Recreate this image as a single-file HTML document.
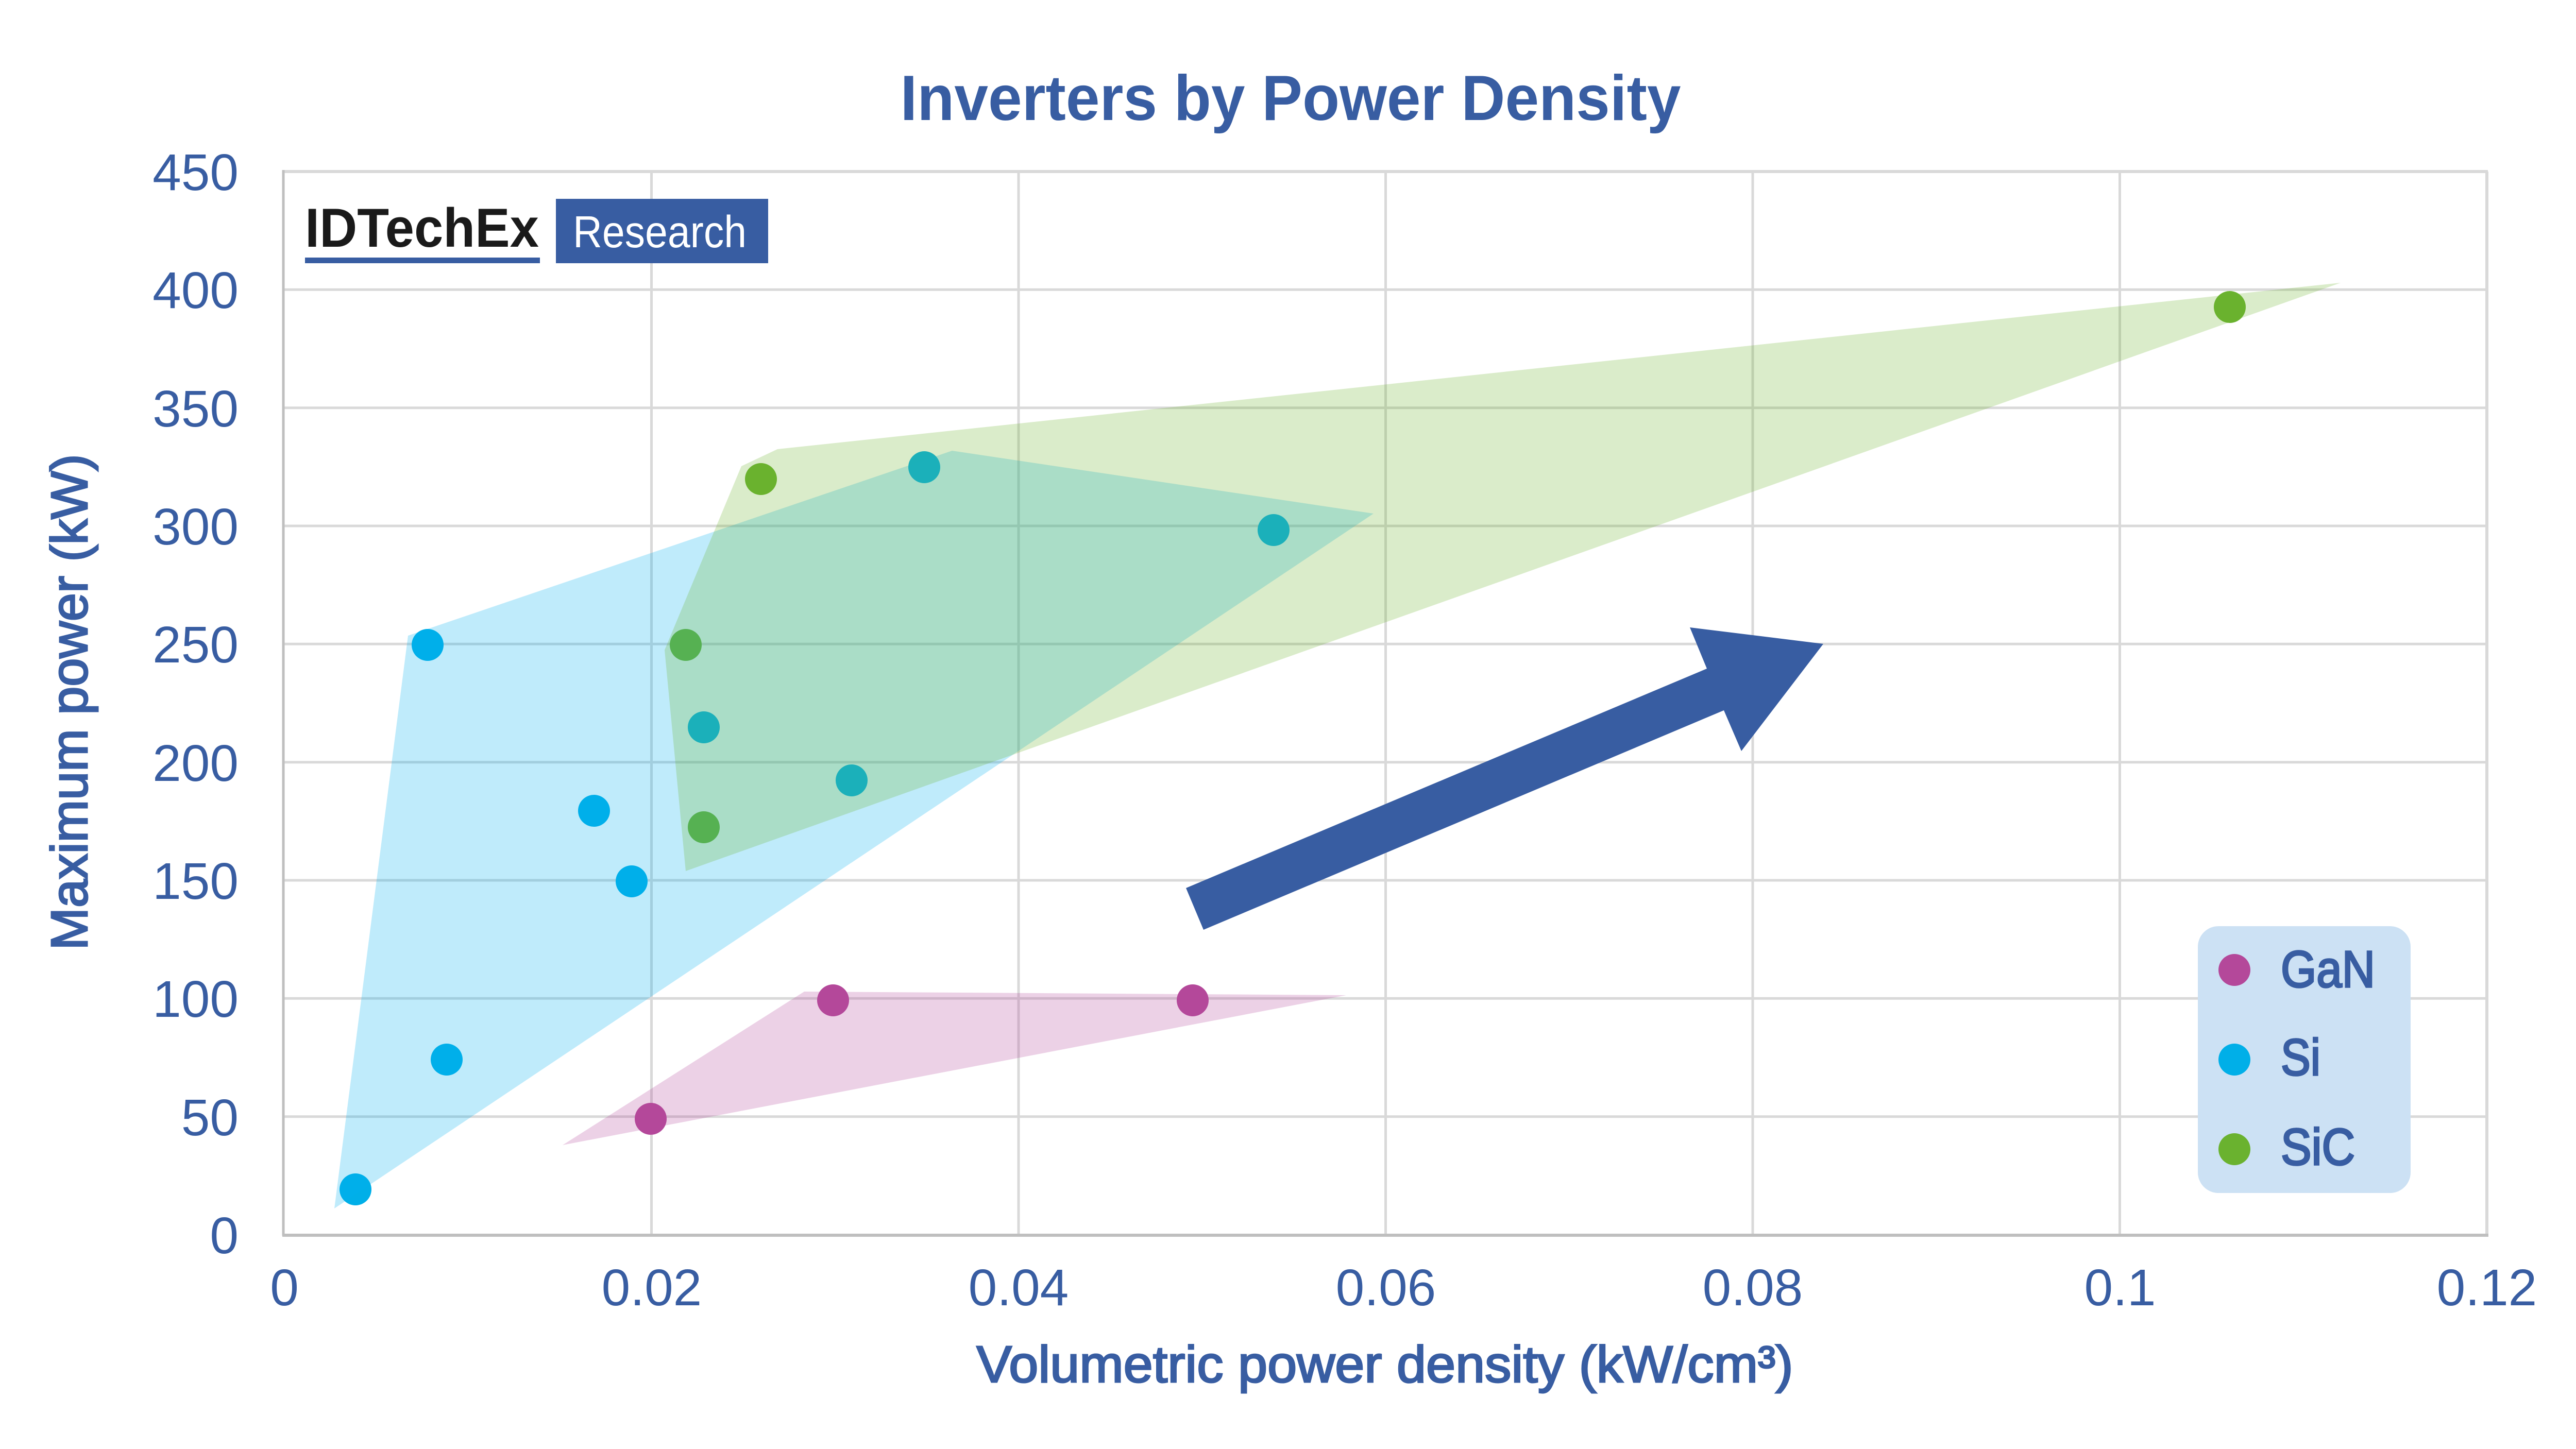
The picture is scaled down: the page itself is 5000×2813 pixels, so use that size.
<!DOCTYPE html>
<html>
<head>
<meta charset="utf-8">
<style>
  html, body { margin: 0; padding: 0; background: #ffffff; }
  svg { display: block; }
  text { font-family: "Liberation Sans", "DejaVu Sans", sans-serif; }
</style>
</head>
<body>
<svg width="5000" height="2813" viewBox="0 0 5000 2813" xmlns="http://www.w3.org/2000/svg">
  <rect x="0" y="0" width="5000" height="2813" fill="#ffffff"/>

  <!-- Title -->
  <text x="2505" y="233" font-size="124" font-weight="bold" fill="#385da2" text-anchor="middle" textLength="1515" lengthAdjust="spacingAndGlyphs">Inverters by Power Density</text>

  <!-- Gridlines -->
  <g stroke="#d9d9d9" stroke-width="5">
    <line x1="552" y1="2167.7" x2="4827" y2="2167.7"/>
    <line x1="552" y1="1938.3" x2="4827" y2="1938.3"/>
    <line x1="552" y1="1709" x2="4827" y2="1709"/>
    <line x1="552" y1="1479.7" x2="4827" y2="1479.7"/>
    <line x1="552" y1="1250.3" x2="4827" y2="1250.3"/>
    <line x1="552" y1="1021" x2="4827" y2="1021"/>
    <line x1="552" y1="791.7" x2="4827" y2="791.7"/>
    <line x1="552" y1="562.3" x2="4827" y2="562.3"/>
    <line x1="1264.5" y1="333" x2="1264.5" y2="2397"/>
    <line x1="1977" y1="333" x2="1977" y2="2397"/>
    <line x1="2689.5" y1="333" x2="2689.5" y2="2397"/>
    <line x1="3402" y1="333" x2="3402" y2="2397"/>
    <line x1="4114.5" y1="333" x2="4114.5" y2="2397"/>
  </g>
  <!-- top & right borders -->
  <line x1="552" y1="333" x2="4829" y2="333" stroke="#d9d9d9" stroke-width="6"/>
  <line x1="4827" y1="333" x2="4827" y2="2397" stroke="#d9d9d9" stroke-width="6"/>
  <!-- left & bottom axes -->
  <line x1="550" y1="330" x2="550" y2="2399" stroke="#bfbfbf" stroke-width="5"/>
  <line x1="548" y1="2398" x2="4830" y2="2398" stroke="#bfbfbf" stroke-width="6"/>

  <!-- Points (drawn under translucent polygons) -->
  <g fill="#00afe8">
    <circle cx="690" cy="2309" r="31"/>
    <circle cx="867" cy="2057" r="31"/>
    <circle cx="830" cy="1252" r="31"/>
    <circle cx="1153" cy="1574" r="31"/>
    <circle cx="1226" cy="1711" r="31"/>
    <circle cx="1366" cy="1412" r="31"/>
    <circle cx="1653" cy="1515" r="31"/>
    <circle cx="1794" cy="907" r="31"/>
    <circle cx="2472" cy="1029" r="31"/>
  </g>
  <g fill="#6ab22f">
    <circle cx="1331" cy="1252" r="31"/>
    <circle cx="1477" cy="930" r="31"/>
    <circle cx="1366" cy="1606" r="31"/>
    <circle cx="4328" cy="596" r="31"/>
  </g>
  <g fill="#b4489a">
    <circle cx="1263" cy="2172" r="31"/>
    <circle cx="1617" cy="1942" r="31"/>
    <circle cx="2315" cy="1942" r="31"/>
  </g>

  <!-- Polygons -->
  <polygon points="649,2346 792,1234 1848,875 2666,997" fill="#00b0f0" fill-opacity="0.25"/>
  <polygon points="1290,1262 1439,905 1509,872 4543,549 1331,1691" fill="#6ab42d" fill-opacity="0.25"/>
  <polygon points="1092,2223 1561,1925 2613,1932" fill="#b5489a" fill-opacity="0.25"/>

  <!-- Arrow -->
  <polygon points="2302,1724 3313,1298 3280,1218 3539,1250 3380,1458 3346,1379 2336,1805" fill="#385da2"/>

  <!-- Logo -->
  <text x="592" y="479" font-size="107" font-weight="bold" fill="#1a1a1a" textLength="454" lengthAdjust="spacingAndGlyphs">IDTechEx</text>
  <rect x="592" y="500" width="456" height="11" fill="#385da2"/>
  <rect x="1079" y="386" width="412" height="125" fill="#385da2"/>
  <text x="1112" y="480" font-size="87" fill="#ffffff" textLength="337" lengthAdjust="spacingAndGlyphs">Research</text>

  <!-- Y tick labels -->
  <g font-size="100" fill="#385da2" text-anchor="end">
    <text x="463" y="2433">0</text>
    <text x="463" y="2204">50</text>
    <text x="463" y="1974">100</text>
    <text x="463" y="1745">150</text>
    <text x="463" y="1516">200</text>
    <text x="463" y="1286">250</text>
    <text x="463" y="1057">300</text>
    <text x="463" y="828">350</text>
    <text x="463" y="598">400</text>
    <text x="463" y="369">450</text>
  </g>

  <!-- X tick labels -->
  <g font-size="100" fill="#385da2" text-anchor="middle">
    <text x="552" y="2534">0</text>
    <text x="1265" y="2534">0.02</text>
    <text x="1977" y="2534">0.04</text>
    <text x="2690" y="2534">0.06</text>
    <text x="3402" y="2534">0.08</text>
    <text x="4115" y="2534">0.1</text>
    <text x="4827" y="2534">0.12</text>
  </g>

  <!-- Axis titles -->
  <text x="2688" y="2683" font-size="100" fill="#385da2" stroke="#385da2" stroke-width="3" text-anchor="middle" textLength="1585" lengthAdjust="spacingAndGlyphs">Volumetric power density (kW/cm³)</text>
  <text transform="translate(169,1363) rotate(-90)" x="0" y="0" font-size="100" fill="#385da2" stroke="#385da2" stroke-width="3" text-anchor="middle" textLength="963" lengthAdjust="spacingAndGlyphs">Maximum power (kW)</text>

  <!-- Legend -->
  <rect x="4266" y="1798" width="413" height="518" rx="40" ry="40" fill="#cce1f4"/>
  <circle cx="4337" cy="1883" r="31" fill="#b4489a"/>
  <circle cx="4337" cy="2057" r="31" fill="#00afe8"/>
  <circle cx="4337" cy="2231" r="31" fill="#6ab22f"/>
  <g font-size="100" fill="#385da2" stroke="#385da2" stroke-width="3.5">
    <text x="4427" y="1916" textLength="183" lengthAdjust="spacingAndGlyphs">GaN</text>
    <text x="4427" y="2087" textLength="77" lengthAdjust="spacingAndGlyphs">Si</text>
    <text x="4427" y="2261" textLength="144" lengthAdjust="spacingAndGlyphs">SiC</text>
  </g>
</svg>
</body>
</html>
